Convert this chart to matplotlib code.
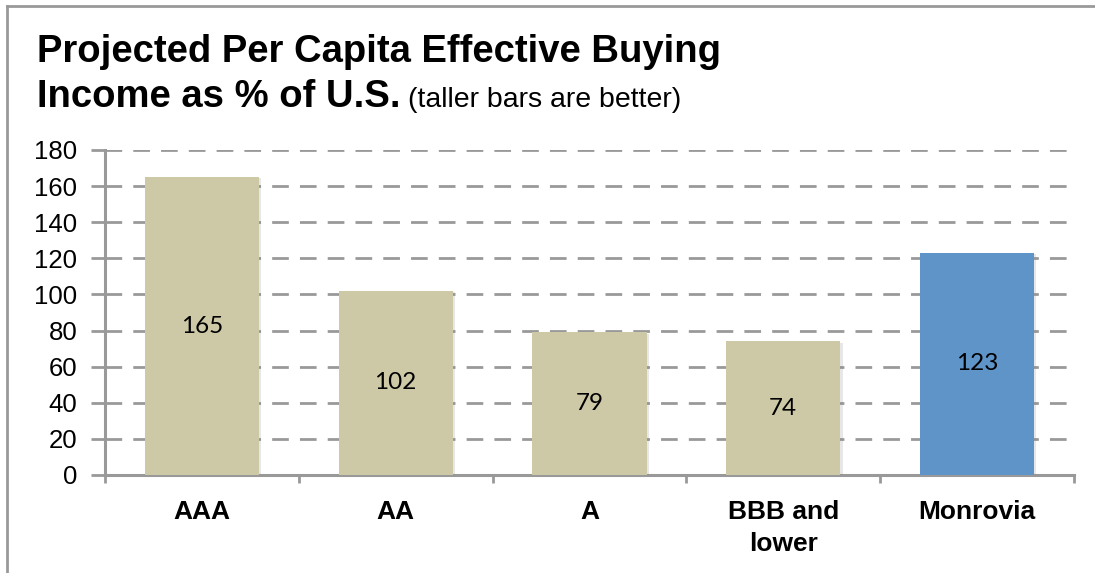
import matplotlib
matplotlib.use("Agg")
import matplotlib.pyplot as plt
from matplotlib.lines import Line2D
import matplotlib.patheffects as pe

# rating categories and per capita EBI as % of U.S.
categorias = ["AAA", "AA", "A", "BBB and\nlower", "Monrovia"]
valores = [165, 102, 79, 74, 123]
colores = ["#CDC8A6", "#CDC8A6", "#CDC8A6", "#CDC8A6", "#5F94C8"]
yticks = list(range(0, 181, 20))

gris = "#999999"

fig = plt.figure(figsize=(10.95, 5.73), dpi=100)
ax = fig.add_axes([105/1095, 1 - 475/573, (1074 - 105)/1095, (475 - 150)/573])

x = range(len(categorias))
barras = ax.bar(x, valores, width=0.59, color=colores, zorder=3)
for b in barras:
    b.set_path_effects([pe.SimplePatchShadow(offset=(1.5, -1), shadow_rgbFace="#888888", alpha=0.2),
                        pe.Normal()])

# value labels in the middle of each bar
for xi, v in zip(x, valores):
    ax.text(xi, v / 2, str(v), ha="center", va="center", fontsize=17.5,
            family="Lato", color="black", zorder=4)

ax.set_xlim(-0.5, len(categorias) - 0.5)
ax.set_ylim(0, 180)
ax.set_yticks(yticks)
ax.set_yticklabels([str(t) for t in yticks], fontsize=18.5, family="Liberation Sans")

# ticks sit on the category boundaries
ax.set_xticks([i - 0.5 for i in range(len(categorias) + 1)])
ax.set_xticklabels([])
ax.set_xticks(list(x), minor=True)
ax.set_xticklabels(categorias, minor=True, fontsize=19, fontweight="bold",
                   family="Liberation Sans", linespacing=1.4)
ax.tick_params(axis="x", which="minor", length=0, pad=18)
ax.tick_params(axis="x", which="major", direction="out", length=6, width=2, color=gris)
ax.tick_params(axis="y", direction="out", length=10, width=2, color=gris, pad=10)

ax.yaxis.grid(True, color=gris, linewidth=2, linestyle=(0, (6, 4)), zorder=0)
ax.set_axisbelow(True)
for s in ["top", "right"]:
    ax.spines[s].set_visible(False)
for s in ["left", "bottom"]:
    ax.spines[s].set_color(gris)
    ax.spines[s].set_linewidth(2.2)

# title, bold part then regular note on the second line
fig.text(37/1095, 1 - 62/573, "Projected Per Capita Effective Buying", fontsize=27.5,
         fontweight="bold", family="Liberation Sans", va="baseline")
t2 = fig.text(37/1095, 1 - 107/573, "Income as % of U.S.", fontsize=27.5,
              fontweight="bold", family="Liberation Sans", va="baseline")
fig.canvas.draw()
bb = t2.get_window_extent()
fig.text((bb.x1 + 8)/1095, 1 - 107/573, "(taller bars are better)", fontsize=20.5,
         family="Liberation Sans", va="baseline")

# outer frame, left and top edges
fig.add_artist(Line2D([7/1095, 7/1095], [0, 1 - 6/573], color=gris, lw=2, transform=fig.transFigure))
fig.add_artist(Line2D([7/1095, 1], [1 - 6/573, 1 - 6/573], color=gris, lw=2, transform=fig.transFigure))

fig.savefig("out.png", dpi=100)
